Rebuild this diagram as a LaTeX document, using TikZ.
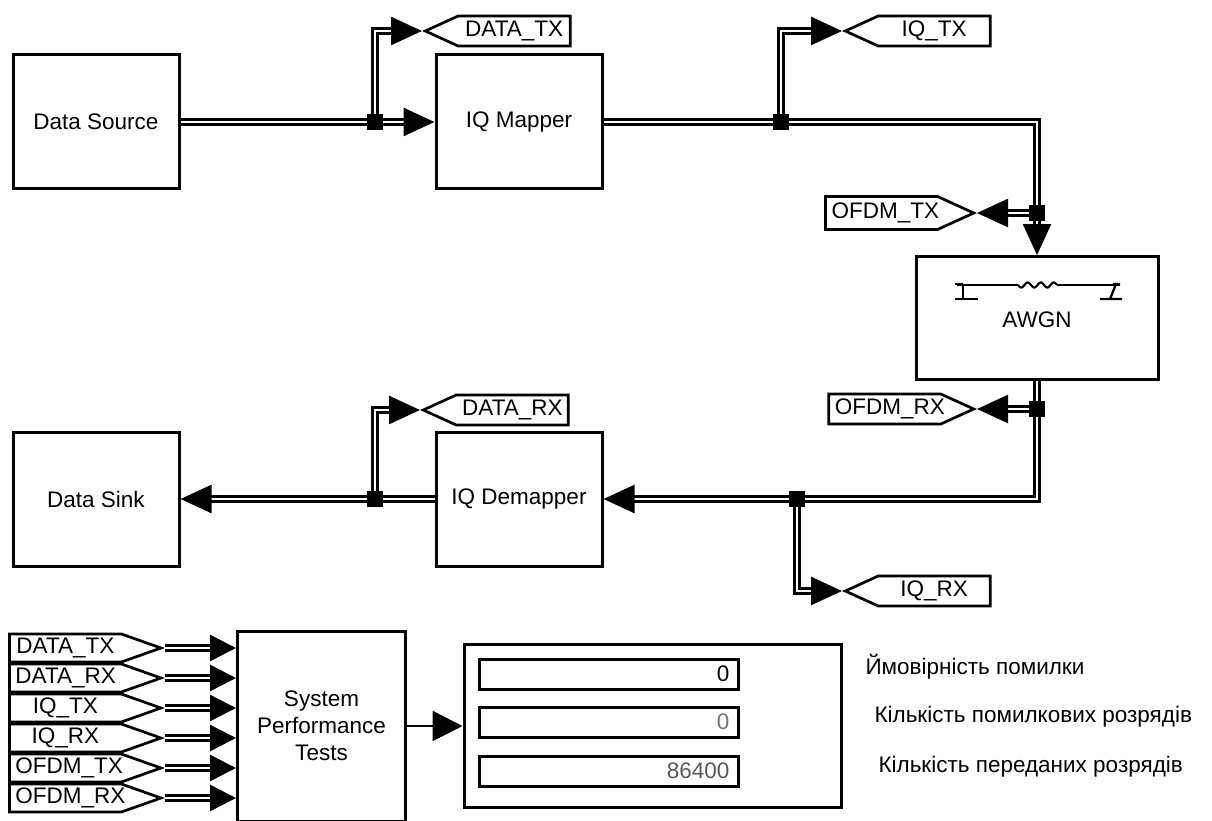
\documentclass[tikz,border=0pt]{standalone}
\usepackage{fontspec}
\setmainfont{Liberation Sans}
\usetikzlibrary{arrows.meta,shapes.symbols}

\tikzset{
	block/.style={draw, line width=3pt, inner sep=0pt, minimum width=166pt, minimum height=134pt},
	tagnode/.style={draw, line width=2.7pt, signal, text width=100pt, align=center,
		text height=16pt, text depth=5pt, inner xsep=6pt, inner ysep=4.5pt, signal pointer angle=49},
	tagsmall/.style={tagnode, inner ysep=3.5pt, signal pointer angle=39, signal to=east},
	wire/.style={double, double distance=2.5pt, line width=2.5pt},
	sig/.style={-{Triangle[length=31pt,width=28pt]}},
	sigsmall/.style={-{Triangle[length=26pt,width=26pt]}},
	junc/.style={fill, minimum size=16pt, inner sep=0pt},
	field/.style={draw, line width=3pt, minimum width=259pt, minimum height=30pt, inner sep=0pt}
}

\begin{document}
\begin{tikzpicture}[x=1pt, y=-1pt, every node/.style={font=\fontsize{22.5}{27}\selectfont}]
	\useasboundingbox (0,0) rectangle (1212,821);

	% Transmitter
	\node[block] (src) at (96,122) {Data Source};
	\node[block] (iqm) at (519,122) {IQ Mapper};
	\node[tagnode, signal to=west, anchor=west] (dtx) at (422,31) {DATA\_TX};
	\node[tagnode, signal to=west, anchor=west] (iqtx) at (842,31) {IQ\_TX};

	% Channel
	\node[block, minimum width=242pt, minimum height=123pt] (awgn) at (1037,318) {};
	\node (awgnlbl) at (1037,320) {AWGN};
	\node[tagnode, signal to=east, anchor=east, inner ysep=6pt] (ofdmtx) at (977,213) {OFDM\_TX};
	\node[tagnode, signal to=east, anchor=east] (ofdmrx) at (977,409) {OFDM\_RX};
	\draw[line width=2.2pt] (957,285) -- (1018,285);
	\draw[line width=2.2pt] plot[domain=0:39, samples=60] ({1018+\x},{285+2.5*sin(\x*360/13)});
	\draw[line width=2.2pt] (1057,285) -- (1120,285);
	\draw[line width=2.2pt] (955,284) -- (963,284) (963,284) -- (963,299) (955,299) -- (978,299);
	\draw[line width=2.2pt] (1120,284) -- (1113,284) (1116,284) -- (1110,299) (1100,299) -- (1122,299);

	% Receiver
	\node[block] (snk) at (96,499) {Data Sink};
	\node[block] (iqd) at (519,499) {IQ Demapper};
	\node[tagnode, signal to=west, anchor=west] (drx) at (420,410) {DATA\_RX};
	\node[tagnode, signal to=west, anchor=west] (iqrx) at (842,591) {IQ\_RX};

	\coordinate (j1) at (375,122);
	\coordinate (j2) at (781,122);
	\coordinate (j3) at (1037,213);
	\coordinate (j4) at (1037,409);
	\coordinate (j5) at (797,499);
	\coordinate (j6) at (375,499);

	\draw[wire, sig] (src) -- (iqm);
	\draw[wire, sig] (j1) |- (dtx.west);
	\draw[wire, sig] (iqm.east) -| (awgn.north);
	\draw[wire, sig] (j2) |- (iqtx.west);
	\draw[wire, sig] (j3) -- (ofdmtx.east);
	\draw[wire, sig] (awgn.south) |- (iqd.east);
	\draw[wire, sig] (j4) -- (ofdmrx.east);
	\draw[wire, sig] (j5) |- (iqrx.west);
	\draw[wire, sig] (iqd.west) -- (snk.east);
	\draw[wire, sig] (j6) |- (drx.west);

	\node[junc] (jb1) at (j1) {};
	\node[junc] (jb2) at (j2) {};
	\node[junc] (jb3) at (j3) {};
	\node[junc] (jb4) at (j4) {};
	\node[junc] (jb5) at (j5) {};
	\node[junc] (jb6) at (j6) {};

	% Tests
	\node[block, minimum width=168pt, minimum height=190pt, align=center] (spt) at (321.5,726) {System\\Performance\\Tests};
	\node[tagsmall, anchor=east] (t1) at (165,648) {DATA\_TX};
	\node[tagsmall, anchor=east] (t2) at (165,678) {DATA\_RX};
	\node[tagsmall, anchor=east] (t3) at (165,708) {IQ\_TX};
	\node[tagsmall, anchor=east] (t4) at (165,738) {IQ\_RX};
	\node[tagsmall, anchor=east] (t5) at (165,768) {OFDM\_TX};
	\node[tagsmall, anchor=east] (t6) at (165,798) {OFDM\_RX};
	\draw[wire, sigsmall] (t1.east) -- (t1.east -| spt.west);
	\draw[wire, sigsmall] (t2.east) -- (t2.east -| spt.west);
	\draw[wire, sigsmall] (t3.east) -- (t3.east -| spt.west);
	\draw[wire, sigsmall] (t4.east) -- (t4.east -| spt.west);
	\draw[wire, sigsmall] (t5.east) -- (t5.east -| spt.west);
	\draw[wire, sigsmall] (t6.east) -- (t6.east -| spt.west);

	% Display
	\node[block, minimum width=377pt, minimum height=163pt] (disp) at (652.5,726) {};
	\draw[line width=2.5pt, -{Triangle[length=30pt,width=30pt]}] (spt) -- (disp);
	\node[field] (f1) at (609,674) {};
	\node[field] (f2) at (609,722) {};
	\node[field] (f3) at (609,771) {};
	\node[anchor=east, xshift=-7pt] (v1) at (f1.east) {0};
	\node[anchor=east, xshift=-7pt, text=black!55] (v2) at (f2.east) {0};
	\node[anchor=east, xshift=-7pt, text=black!65] (v3) at (f3.east) {86400};
	\node[anchor=west] (l1) at (862,667) {Ймовірність помилки};
	\node[anchor=west] (l2) at (871,717) {Кількість помилкових розрядів};
	\node[anchor=west] (l3) at (875,767) {Кількість переданих розрядів};
\end{tikzpicture}
\end{document}
